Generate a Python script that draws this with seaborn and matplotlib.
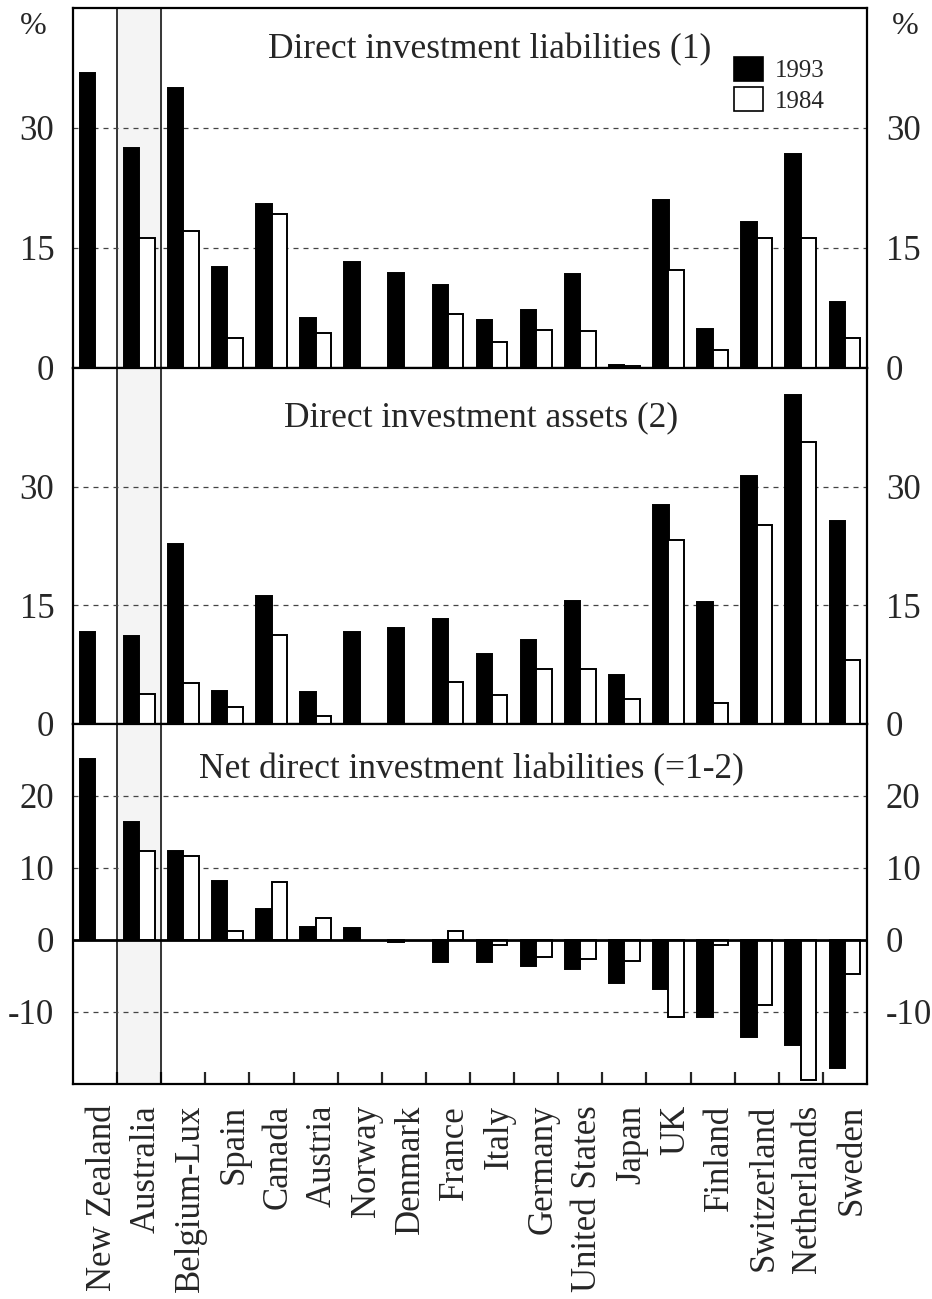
import numpy as np
import pandas as pd
import matplotlib
matplotlib.use("Agg")
import matplotlib.pyplot as plt
import matplotlib.transforms as mtransforms
from matplotlib.patches import Patch
import seaborn as sns

sns.set_style("white")
plt.rcParams["font.family"] = ["Liberation Serif", "DejaVu Serif"]
plt.rcParams["axes.unicode_minus"] = False

countries = ["New Zealand", "Australia", "Belgium-Lux", "Spain", "Canada", "Austria",
             "Norway", "Denmark", "France", "Italy", "Germany", "United States",
             "Japan", "UK", "Finland", "Switzerland", "Netherlands", "Sweden"]
years = ["1993", "1984"]

liab_1993 = [36.9, 27.5, 35.0, 12.6, 20.5, 6.2, 13.3, 11.9, 10.4, 6.0, 7.2, 11.75, 0.4, 21.0, 4.9, 18.25, 26.7, 8.2]
liab_1984 = [np.nan, 16.3, 17.1, 3.8, 19.25, 4.4, np.nan, np.nan, 6.8, 3.3, 4.8, 4.6, 0.3, 12.3, 2.2, 16.25, 16.2, 3.7]

assets_1993 = [11.65, 11.1, 22.8, 4.2, 16.2, 4.1, 11.65, 12.15, 13.3, 8.9, 10.6, 15.6, 6.15, 27.7, 15.4, 31.4, 41.6, 25.7]
assets_1984 = [np.nan, 3.8, 5.2, 2.2, 11.3, 1.05, np.nan, np.nan, 5.3, 3.7, 7.0, 6.9, 3.1, 23.2, 2.6, 25.2, 35.6, 8.1]

net_1993 = [25.2, 16.4, 12.4, 8.2, 4.3, 1.8, 1.7, -0.3, -3.1, -3.1, -3.6, -4.0, -6.0, -6.8, -10.7, -13.5, -14.6, -17.8]
net_1984 = [np.nan, 12.4, 11.6, 1.3, 8.0, 3.1, np.nan, np.nan, 1.3, -0.7, -2.4, -2.6, -2.9, -10.7, -0.65, -9.0, -19.4, -4.7]

panel_titles = ["Direct investment liabilities (1)",
                "Direct investment assets (2)",
                "Net direct investment liabilities (=1-2)"]
panel_series = [(liab_1993, liab_1984), (assets_1993, assets_1984), (net_1993, net_1984)]
panel_ylims = [(0, 45), (0, 45), (-20, 30)]
panel_yticks = [[0, 15, 30], [0, 15, 30], [-10, 0, 10, 20]]


def long_frame(v93, v84):
    df = pd.DataFrame({"country": countries * 2,
                       "year": ["1993"] * len(countries) + ["1984"] * len(countries),
                       "value": list(v93) + list(v84)})
    return df.dropna(subset=["value"])


W, H = 932, 1299
fig = plt.figure(figsize=(W / 100, H / 100), dpi=100)

left_px, right_px = 73, 867
# (top, bottom) of each panel in pixels
panel_px = [(8, 368), (368, 724), (724, 1084)]
title_pos = [(0.525, 0.883), (0.514, 0.86), (0.502, 0.872)]

axes = []
for i, (top, bot) in enumerate(panel_px):
    ax = fig.add_axes([left_px / W, 1 - bot / H, (right_px - left_px) / W, (bot - top) / H])
    axes.append(ax)
    v93, v84 = panel_series[i]
    df = long_frame(v93, v84)

    ax.axvspan(0.5, 1.5, color="#f4f4f4", zorder=0)
    ax.axvline(0.5, color="black", lw=1.1, zorder=1)
    ax.axvline(1.5, color="black", lw=1.1, zorder=1)

    sns.barplot(data=df, x="country", y="value", hue="year", order=countries,
                hue_order=years, palette={"1993": "black", "1984": "white"},
                edgecolor="black", linewidth=1.4, width=0.7, saturation=1,
                errorbar=None, legend=False, ax=ax, zorder=3)

    ax.set_xlim(-0.5, len(countries) - 0.5)
    ax.set_ylim(*panel_ylims[i])
    ax.set_yticks(panel_yticks[i])
    ax.set_xlabel("")
    ax.set_ylabel("")

    for t in panel_yticks[i]:
        if t == 0:
            continue
        ax.axhline(t, color="#444444", lw=0.9, ls=(0, (4, 4)), zorder=2)
    if panel_ylims[i][0] < 0:
        ax.axhline(0, color="black", lw=2, zorder=4)

    for sp in ax.spines.values():
        sp.set_linewidth(1.6)
        sp.set_color("black")

    ax.tick_params(axis="y", which="both", left=False, right=False,
                   labelleft=True, labelright=True, labelsize=25, pad=10)

    ax.text(title_pos[i][0], title_pos[i][1], panel_titles[i], transform=ax.transAxes,
            ha="center", va="center", fontsize=25.5, zorder=5)

    if i < 2:
        ax.tick_params(axis="x", which="both", bottom=False, labelbottom=False)

# bottom axis: category labels and inward boundary ticks
ax = axes[2]
ax.set_xticks(range(len(countries)))
ax.set_xticklabels(countries, rotation=90, fontsize=25, ha="center", va="top")
ax.set_xticks(np.arange(0.5, len(countries) - 1, 1.0), minor=True)
ax.tick_params(axis="x", which="major", length=0, pad=15)
ax.tick_params(axis="x", which="minor", direction="in", length=9, width=1.6, bottom=True)
shift = mtransforms.ScaledTranslation(7 / 100, 0, fig.dpi_scale_trans)
for lab in ax.get_xticklabels():
    lab.set_transform(lab.get_transform() + shift)

# legend in the top panel
handles = [Patch(facecolor="black", edgecolor="black", lw=1.2, label="1993"),
           Patch(facecolor="white", edgecolor="black", lw=1.2, label="1984")]
axes[0].legend(handles=handles, loc="upper left", bbox_to_anchor=(0.8325, 0.865),
               frameon=False, fontsize=18, handlelength=1.15, handleheight=1.1,
               handletextpad=0.5, labelspacing=0.2, borderpad=0, borderaxespad=0)

fig.text(33 / W, 1 - 27 / H, "%", ha="center", va="center", fontsize=23)
fig.text(905 / W, 1 - 27 / H, "%", ha="center", va="center", fontsize=23)

plt.savefig("out.png", dpi=100)
